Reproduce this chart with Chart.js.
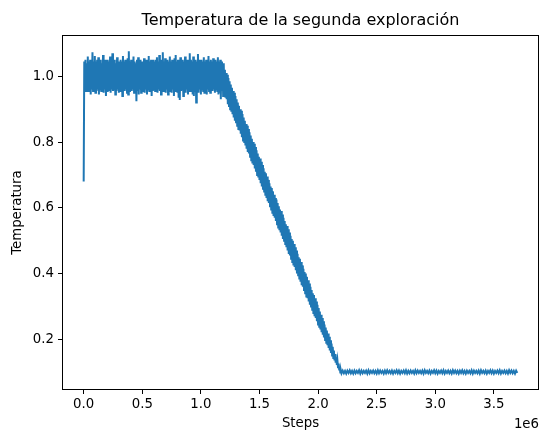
<!DOCTYPE html>
<html>
<head>
<meta charset="utf-8">
<script src="https://cdn.jsdelivr.net/npm/chart.js@4"></script>
<style>
  body { margin: 0; background: #fff; }
  #wrap { width: 540px; height: 430px; }
</style>
</head>
<body>
<div id="wrap"><canvas id="myChart" width="540" height="430"></canvas></div>
<script>
// first logged value (step 0)
var startTemp = [0.68];

// plateau, logged every 5000 steps from 5000 to 1.2e6
var plateauStart = 5000;
var plateauEvery = 5000;
var plateauTemp = [
  1.045, 0.96, 1.05, 0.955, 1.04, 0.965, 1.06, 0.955, 1.045, 0.96, 1.05, 0.945, 1.045, 0.96, 1.073, 0.955, 1.045, 0.96, 1.062, 0.95,
  1.045, 0.955, 1.05, 0.96, 1.058, 0.945, 1.045, 0.96, 1.05, 0.955, 1.04, 0.96, 1.065, 0.95, 1.045, 0.96, 1.05, 0.94, 1.045, 0.955,
  1.05, 0.96, 1.045, 0.955, 1.06, 0.95, 1.045, 0.96, 1.07, 0.955, 1.045, 0.96, 1.05, 0.945, 1.04, 0.955, 1.058, 0.96, 1.045, 0.95,
  1.045, 0.955, 1.05, 0.96, 1.045, 0.94, 1.062, 0.96, 1.045, 0.955, 1.05, 0.96, 1.045, 0.95, 1.055, 0.945, 1.076, 0.955, 1.045, 0.96,
  1.05, 0.955, 1.045, 0.96, 1.06, 0.95, 1.045, 0.96, 1.04, 0.924, 1.05, 0.955, 1.058, 0.945, 1.045, 0.96, 1.05, 0.95, 1.045, 0.955,
  1.045, 0.96, 1.055, 0.95, 1.045, 0.96, 1.05, 0.945, 1.045, 0.96, 1.062, 0.955, 1.045, 0.96, 1.05, 0.94, 1.045, 0.955, 1.05, 0.96,
  1.045, 0.955, 1.05, 0.96, 1.058, 0.95, 1.045, 0.96, 1.065, 0.955, 1.045, 0.945, 1.05, 0.96, 1.073, 0.955, 1.045, 0.96, 1.055, 0.95,
  1.045, 0.96, 1.05, 0.945, 1.045, 0.96, 1.06, 0.955, 1.045, 0.95, 1.05, 0.96, 1.045, 0.94, 1.055, 0.955, 1.065, 0.96, 1.045, 0.95,
  1.05, 0.935, 1.045, 0.928, 1.058, 0.955, 1.045, 0.96, 1.05, 0.94, 1.045, 0.955, 1.06, 0.95, 1.045, 0.96, 1.05, 0.945, 1.045, 0.955,
  1.07, 0.955, 1.05, 0.96, 1.045, 0.945, 1.06, 0.94, 1.045, 0.955, 1.05, 0.92, 1.045, 0.96, 1.068, 0.95, 1.05, 0.96, 1.045, 0.945,
  1.05, 0.96, 1.045, 0.955, 1.058, 0.95, 1.045, 0.96, 1.05, 0.945, 1.045, 0.96, 1.062, 0.955, 1.045, 0.95, 1.05, 0.96, 1.045, 0.955,
  1.055, 0.96, 1.045, 0.95, 1.05, 0.96, 1.045, 0.955, 1.058, 0.945, 1.045, 0.95, 1.05, 0.93, 1.045, 0.955, 1.04, 0.94, 1.04, 0.945
];

// cooling, logged every 5000 steps from 1.205e6 to 2.2e6
var coolingStart = 1205000;
var coolingEvery = 5000;
var coolingTemp = [
  1.02, 0.935, 1.01, 0.93, 1.005, 0.915, 0.995, 0.91, 0.985, 0.90, 0.975, 0.895, 0.965, 0.885, 0.955, 0.875, 0.95, 0.865, 0.94, 0.86,
  0.93, 0.85, 0.92, 0.84, 0.91, 0.835, 0.90, 0.825, 0.895, 0.815, 0.885, 0.805, 0.875, 0.80, 0.865, 0.79, 0.855, 0.78, 0.85, 0.77,
  0.84, 0.765, 0.83, 0.755, 0.82, 0.745, 0.81, 0.735, 0.80, 0.73, 0.795, 0.72, 0.785, 0.71, 0.775, 0.70, 0.765, 0.695, 0.755, 0.685,
  0.75, 0.675, 0.74, 0.665, 0.73, 0.655, 0.72, 0.65, 0.71, 0.64, 0.705, 0.63, 0.695, 0.62, 0.685, 0.615, 0.675, 0.605, 0.665, 0.595,
  0.66, 0.585, 0.65, 0.575, 0.64, 0.57, 0.63, 0.56, 0.625, 0.55, 0.615, 0.54, 0.605, 0.535, 0.595, 0.525, 0.59, 0.515, 0.58, 0.505,
  0.57, 0.50, 0.56, 0.49, 0.55, 0.48, 0.545, 0.47, 0.535, 0.46, 0.525, 0.455, 0.515, 0.445, 0.505, 0.435, 0.50, 0.425, 0.49, 0.42,
  0.48, 0.41, 0.47, 0.40, 0.46, 0.395, 0.45, 0.385, 0.445, 0.375, 0.435, 0.365, 0.425, 0.36, 0.415, 0.35, 0.405, 0.34, 0.40, 0.33,
  0.39, 0.325, 0.38, 0.315, 0.37, 0.305, 0.36, 0.30, 0.35, 0.29, 0.34, 0.28, 0.335, 0.27, 0.325, 0.265, 0.315, 0.255, 0.305, 0.245,
  0.295, 0.238, 0.285, 0.23, 0.275, 0.222, 0.265, 0.214, 0.255, 0.206, 0.245, 0.198, 0.236, 0.19, 0.227, 0.182, 0.218, 0.174, 0.208, 0.166,
  0.197, 0.159, 0.187, 0.151, 0.177, 0.143, 0.166, 0.136, 0.155, 0.129, 0.145, 0.122, 0.136, 0.115, 0.126, 0.108, 0.115, 0.099, 0.105, 0.097
];

// final temperature, logged every 10000 steps from 2.21e6 to 3.7e6
var tailStart = 2210000;
var tailEvery = 10000;
var tailTemp = [
  0.105, 0.097, 0.104, 0.096, 0.105, 0.098, 0.106, 0.097, 0.104, 0.096,
  0.105, 0.097, 0.104, 0.098, 0.106, 0.096, 0.105, 0.097, 0.104, 0.098,
  0.105, 0.096, 0.106, 0.097, 0.104, 0.098, 0.105, 0.097, 0.104, 0.096,
  0.106, 0.097, 0.105, 0.098, 0.104, 0.096, 0.105, 0.097, 0.106, 0.098,
  0.104, 0.097, 0.105, 0.096, 0.104, 0.098, 0.106, 0.097, 0.105, 0.096,
  0.104, 0.098, 0.105, 0.097, 0.106, 0.096, 0.104, 0.097, 0.105, 0.098,
  0.104, 0.096, 0.106, 0.097, 0.105, 0.098, 0.104, 0.097, 0.105, 0.096,
  0.106, 0.098, 0.104, 0.097, 0.105, 0.096, 0.104, 0.098, 0.106, 0.097,
  0.105, 0.096, 0.104, 0.098, 0.105, 0.097, 0.106, 0.096, 0.104, 0.098,
  0.105, 0.097, 0.104, 0.096, 0.106, 0.098, 0.105, 0.097, 0.104, 0.096,
  0.105, 0.098, 0.106, 0.097, 0.104, 0.096, 0.105, 0.098, 0.104, 0.097,
  0.106, 0.096, 0.105, 0.098, 0.104, 0.097, 0.105, 0.096, 0.106, 0.098,
  0.104, 0.097, 0.105, 0.096, 0.104, 0.098, 0.106, 0.097, 0.105, 0.096,
  0.104, 0.098, 0.105, 0.097, 0.106, 0.096, 0.104, 0.098, 0.105, 0.097,
  0.104, 0.096, 0.106, 0.098, 0.105, 0.097, 0.104, 0.096, 0.105, 0.098
];

// tick positions
var xTickValues = [0, 500000, 1000000, 1500000, 2000000, 2500000, 3000000, 3500000];
var yTickValues = [0.2, 0.4, 0.6, 0.8, 1.0];

function toPoints(temps, start, every) {
  return temps.map(function (t, i) { return { x: start + i * every, y: t }; });
}

var points = [{ x: 0, y: startTemp[0] }].concat(
  toPoints(plateauTemp, plateauStart, plateauEvery),
  toPoints(coolingTemp, coolingStart, coolingEvery),
  toPoints(tailTemp, tailStart, tailEvery)
);

Chart.defaults.font.family = "'DejaVu Sans', sans-serif";
Chart.defaults.color = "#000";

// matplotlib-like frame and the 1e6 offset text
var framePlugin = {
  id: "frame",
  afterDatasetsDraw: function (chart) {
    var a = chart.chartArea;
    var c = chart.ctx;
    c.save();
    c.strokeStyle = "#000";
    c.lineWidth = 1;
    c.strokeRect(Math.round(a.left) + 0.5, Math.round(a.top) + 0.5,
      Math.round(a.right - a.left) - 1, Math.round(a.bottom - a.top) - 1);
    c.font = "13.3px 'DejaVu Sans'";
    c.fillStyle = "#000";
    c.textAlign = "right";
    c.textBaseline = "alphabetic";
    c.fillText("1e6", a.right, 428);
    c.restore();
  }
};

var ctx = document.getElementById("myChart").getContext("2d");
var myChart = new Chart(ctx, {
  type: "line",
  data: {
    datasets: [
      {
        label: "Temperatura",
        data: points,
        borderColor: "#1f77b4",
        borderWidth: 2,
        pointRadius: 0,
        tension: 0,
        fill: false,
      },
    ],
  },
  options: {
    responsive: false,
    animation: false,
    layout: { padding: { top: 0, right: 1, left: 0, bottom: 0 } },
    plugins: {
      legend: { display: false },
      tooltip: { enabled: false },
      title: {
        display: true,
        text: "Temperatura de la segunda exploración",
        fullSize: false,
        font: { size: 16, weight: "normal" },
        color: "#000",
        padding: { top: 11, bottom: 5 },
      },
    },
    scales: {
      x: {
        type: "linear",
        min: -185000,
        max: 3885000,
        afterBuildTicks: function (scale) {
          scale.ticks = xTickValues.map(function (v) { return { value: v }; });
        },
        afterFit: function (scale) { scale.height = 40; },
        ticks: {
          autoSkip: false,
          maxRotation: 0,
          padding: 3,
          font: { size: 13.3 },
          callback: function (v) { return (v / 1e6).toFixed(1); },
        },
        grid: { drawOnChartArea: false, drawTicks: true, tickLength: 4, color: "#000" },
        border: { display: false },
        title: {
          display: true,
          text: "Steps",
          font: { size: 13.3, lineHeight: 1 },
          padding: 0,
        },
      },
      y: {
        type: "linear",
        min: 0.046,
        max: 1.125,
        afterBuildTicks: function (scale) {
          scale.ticks = yTickValues.map(function (v) { return { value: v }; });
        },
        afterFit: function (scale) { scale.width = 62; },
        ticks: {
          autoSkip: false,
          padding: 4,
          font: { size: 13.3 },
          callback: function (v) { return v.toFixed(1); },
        },
        grid: { drawOnChartArea: false, drawTicks: true, tickLength: 4, color: "#000" },
        border: { display: false },
        title: {
          display: true,
          text: "Temperatura",
          font: { size: 13.3, lineHeight: 1 },
          padding: { top: 11, bottom: 0 },
        },
      },
    },
  },
  plugins: [framePlugin],
});
</script>
</body>
</html>
